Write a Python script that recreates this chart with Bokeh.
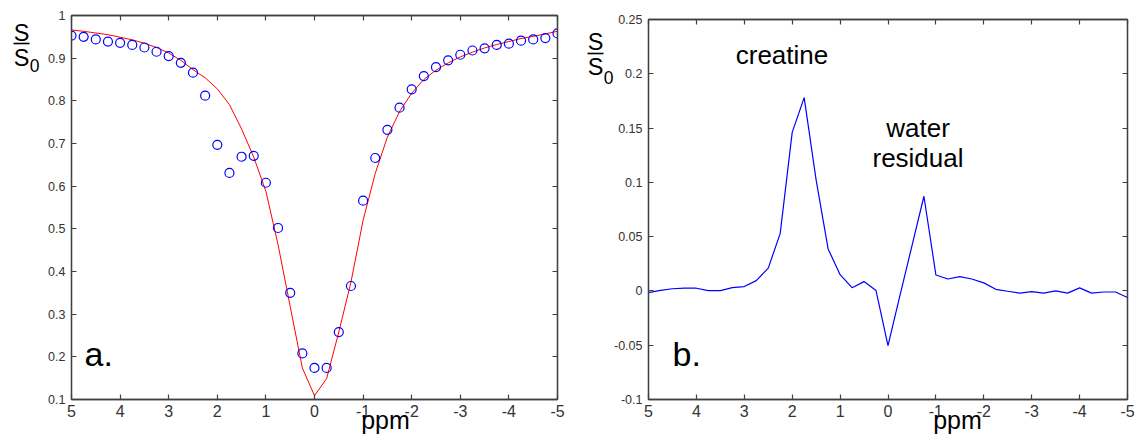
from bokeh.plotting import figure
from bokeh.models import Range1d, FixedTicker, CustomJSTickFormatter, LinearAxis, Label
from bokeh.layouts import row
from bokeh.embed import file_html
from bokeh.resources import INLINE

# ---------------- data ----------------
ppm = [5.0, 4.75, 4.5, 4.25, 4.0, 3.75, 3.5, 3.25, 3.0, 2.75, 2.5, 2.25, 2.0, 1.75, 1.5, 1.25,
       1.0, 0.75, 0.5, 0.25, 0.0, -0.25, -0.5, -0.75, -1.0, -1.25, -1.5, -1.75, -2.0, -2.25,
       -2.5, -2.75, -3.0, -3.25, -3.5, -3.75, -4.0, -4.25, -4.5, -4.75, -5.0]

z_measured = [0.953, 0.950, 0.944, 0.939, 0.936, 0.931, 0.925, 0.915, 0.905, 0.889, 0.866, 0.812,
              0.697, 0.631, 0.669, 0.671, 0.608, 0.502, 0.350, 0.208, 0.174, 0.174, 0.258, 0.366,
              0.566, 0.666, 0.732, 0.784, 0.827, 0.858, 0.879, 0.895, 0.908, 0.918, 0.923, 0.931,
              0.934, 0.941, 0.944, 0.947, 0.958]

z_fit = [0.966, 0.963, 0.959, 0.955, 0.949, 0.943, 0.935, 0.925, 0.912, 0.895, 0.873, 0.854,
         0.828, 0.791, 0.734, 0.668, 0.588, 0.463, 0.318, 0.174, 0.109, 0.149, 0.258, 0.375,
         0.520, 0.630, 0.715, 0.775, 0.818, 0.850, 0.872, 0.889, 0.903, 0.914, 0.924, 0.932,
         0.939, 0.946, 0.951, 0.957, 0.963]

residual = [-0.0015, 0.0005, 0.002, 0.0025, 0.0025, 0.0003, 0.0003, 0.003, 0.004, 0.0095, 0.021,
            0.053, 0.146, 0.178, 0.102, 0.0387, 0.015, 0.003, 0.0086, 0.0003, -0.0504, -0.004,
            0.0415, 0.0872, 0.0147, 0.011, 0.0132, 0.011, 0.0074, 0.0015, -0.0003, -0.002,
            -0.0006, -0.002, 0.0, -0.002, 0.0028, -0.002, -0.001, -0.001, -0.006]

x_ticks = [5, 4, 3, 2, 1, 0, -1, -2, -3, -4, -5]
x_labels = ["5", "4", "3", "2", "1", "0", "-1", "-2", "-3", "-4", "-5"]
ya_ticks = [0.1, 0.2, 0.3, 0.4, 0.5, 0.6, 0.7, 0.8, 0.9, 1.0]
ya_labels = ["0.1", "0.2", "0.3", "0.4", "0.5", "0.6", "0.7", "0.8", "0.9", "1"]
yb_ticks = [-0.1, -0.05, 0.0, 0.05, 0.1, 0.15, 0.2, 0.25]
yb_labels = ["-0.1", "-0.05", "0", "0.05", "0.1", "0.15", "0.2", "0.25"]

x_title = "ppm"
y_title = ["S", "S"]      # S over S (fraction, bar drawn as a tick) ...
y_title_sub = ["0"]       # ... with subscript 0

FONT = "Liberation Sans"
AX = "#404040"


def fmt(ticks, labels):
    return CustomJSTickFormatter(args=dict(t=ticks, l=labels), code="""
        for (let i = 0; i < t.length; i++) { if (Math.abs(t[i] - tick) < 1e-9) return l[i]; }
        return "";
    """)


def style_axis(ax, ticks, labels, size=None, standoff=0):
    ax.ticker = FixedTicker(ticks=ticks)
    ax.formatter = fmt(ticks, labels)
    ax.major_tick_in = 5
    ax.major_tick_out = 0
    ax.minor_tick_line_color = None
    ax.axis_line_color = AX
    ax.axis_line_width = 1.3
    ax.major_tick_line_color = AX
    ax.major_tick_line_width = 1.2
    ax.major_label_text_font = FONT
    ax.major_label_text_color = "#333333"
    ax.major_label_standoff = standoff
    if size is not None:
        ax.major_label_text_font_size = size


def text_axis(ticks, labels, size, standoff):
    ax = LinearAxis()
    ax.ticker = FixedTicker(ticks=ticks)
    ax.formatter = fmt(ticks, labels)
    ax.axis_line_color = None
    ax.major_tick_line_color = None
    ax.minor_tick_line_color = None
    ax.major_tick_in = 0
    ax.major_tick_out = 0
    ax.major_label_text_font = FONT
    ax.major_label_text_font_size = size
    ax.major_label_text_color = "black"
    ax.major_label_standoff = standoff
    return ax


def bar_axis(tick):
    ax = LinearAxis()
    ax.ticker = FixedTicker(ticks=[tick])
    ax.formatter = fmt([tick], [""])
    ax.axis_line_color = None
    ax.minor_tick_line_color = None
    ax.major_tick_line_color = "black"
    ax.major_tick_line_width = 1.6
    ax.major_tick_in = 3
    ax.major_tick_out = 13
    ax.major_label_text_color = None
    ax.major_label_standoff = 0
    return ax


def make(xr, yr, yticks, ylabels, mbl, mbr, mbt, mbb, width):
    p = figure(width=width, height=437, x_range=xr, y_range=yr,
               output_backend="svg", toolbar_location=None,
               min_border_left=mbl, min_border_right=mbr, min_border_top=mbt,
               min_border_bottom=mbb)
    p.frame_align = False
    p.title.visible = False
    p.grid.visible = False
    p.outline_line_color = AX
    p.outline_line_width = 1.3
    p.background_fill_color = "white"
    p.border_fill_color = "white"
    style_axis(p.xaxis[0], x_ticks, x_labels, "16px", 5)
    style_axis(p.yaxis[0], yticks, ylabels, "12.5px", 6)
    top = LinearAxis()
    style_axis(top, x_ticks, ["" for _ in x_ticks])
    top.major_label_text_color = None
    p.add_layout(top, "above")
    right = LinearAxis()
    style_axis(right, yticks, ["" for _ in yticks])
    right.major_label_text_color = None
    p.add_layout(right, "right")
    return p


# page-pixel -> data helpers (frame geometry on the page)
def a_x(px):
    return 5 - (px - 71.0) / 48.6


def a_y(py):
    return 1 - (py - 15.0) / 426.7


def b_x(px):
    return 5 - (px - 648.0) / 47.9


def b_y(py):
    return 0.25 - (py - 19.0) / 1085.7


def lab(p, x, y, text, size, align="left"):
    p.add_layout(Label(x=x, y=y, text=text, text_font=FONT, text_font_size=size,
                       text_color="black", text_align=align, text_baseline="middle"))


# ---------------- panel a ----------------
pa = make(Range1d(5, -5), Range1d(0.1, 1.0), ya_ticks, ya_labels, 71, 10, 15, 38, 567)
pa.line(ppm, z_fit, line_color="red", line_width=1.0)
pa.scatter(ppm, z_measured, marker="circle", size=9, fill_color=None,
           line_color="blue", line_width=1.2)
pa.add_layout(text_axis([a_y(65.0)], y_title_sub, "17.5px", 6), "left")
pa.add_layout(bar_axis(a_y(43.0)), "left")
pa.add_layout(text_axis([a_y(33.0), a_y(57.5)], y_title, "23.5px", -16), "left")
pa.add_layout(text_axis([a_x(385)], [x_title], "25px", -14), "below")
lab(pa, a_x(84), a_y(353.5), "a.", "34px")

# ---------------- panel b ----------------
pb = make(Range1d(5, -5), Range1d(-0.1, 0.25), yb_ticks, yb_labels, 81, 8, 19, 38, 568)
pb.line(ppm, residual, line_color="blue", line_width=1.2)
pb.add_layout(text_axis([b_y(76.5)], y_title_sub, "17.5px", -2), "left")
pb.add_layout(bar_axis(b_y(52.5)), "left")
pb.add_layout(text_axis([b_y(41.3), b_y(66.5)], y_title, "23.5px", -16), "left")
pb.add_layout(text_axis([b_x(957)], [x_title], "25px", -14), "below")
lab(pb, b_x(781.5), b_y(54.0), "creatine", "26px", "center")
lab(pb, b_x(917.5), b_y(127.0), "water", "26px", "center")
lab(pb, b_x(917.5), b_y(157.0), "residual", "26px", "center")
lab(pb, b_x(672), b_y(353.5), "b.", "34px")

layout = row(pa, pb)
open("out.html", "w").write(file_html(layout, INLINE))
